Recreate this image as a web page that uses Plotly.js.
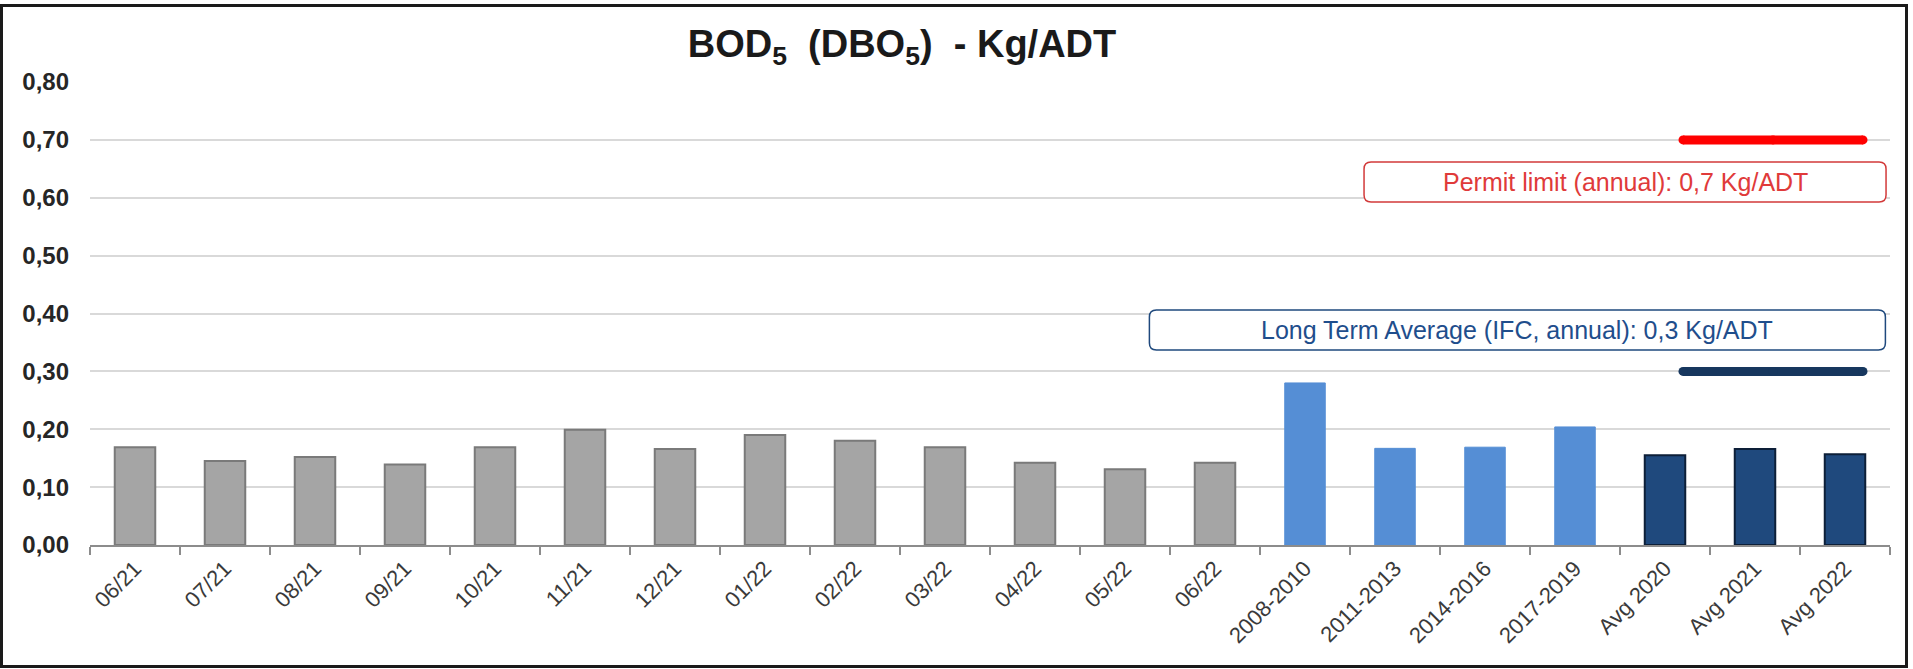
<!DOCTYPE html>
<html>
<head>
<meta charset="utf-8">
<script src="https://cdn.plot.ly/plotly-3.0.1.min.js"></script>
<style>
  html, body { margin: 0; padding: 0; background: #fff; }
  #chart { position: absolute; left: 0; top: 0; width: 1913px; height: 669px; }
  #frame { position: absolute; left: 0; top: 4px; width: 1908px; height: 664px; box-sizing: border-box; border: 3px solid #1a1a1a; pointer-events: none; }
</style>
</head>
<body>
<div id="chart"></div>
<div id="frame"></div>
<script>
// ---- data ----
const categories = ["06/21","07/21","08/21","09/21","10/21","11/21","12/21","01/22","02/22","03/22","04/22","05/22","06/22",
                    "2008-2010","2011-2013","2014-2016","2017-2019","Avg 2020","Avg 2021","Avg 2022"];
const monthlyLabels = ["06/21","07/21","08/21","09/21","10/21","11/21","12/21","01/22","02/22","03/22","04/22","05/22","06/22"];
const monthlyValues = [0.169,0.145,0.152,0.139,0.169,0.199,0.166,0.190,0.180,0.169,0.142,0.131,0.142];
const periodLabels = ["2008-2010","2011-2013","2014-2016","2017-2019"];
const periodValues = [0.280,0.167,0.169,0.204];
const avgLabels = ["Avg 2020","Avg 2021","Avg 2022"];
const avgValues = [0.155,0.166,0.157];
const permitLimit = [0.7,0.7,0.7];
const longTermAvg = [0.3,0.3,0.3];
const yTicks = [0,0.1,0.2,0.3,0.4,0.5,0.6,0.7,0.8];

const FONT = "Liberation Sans, Arial, sans-serif";

function roundedBox(hw, hh, r) {
  return `M ${-hw + r},${-hh} L ${hw - r},${-hh} Q ${hw},${-hh} ${hw},${-hh + r} ` +
         `L ${hw},${hh - r} Q ${hw},${hh} ${hw - r},${hh} L ${-hw + r},${hh} ` +
         `Q ${-hw},${hh} ${-hw},${hh - r} L ${-hw},${-hh + r} Q ${-hw},${-hh} ${-hw + r},${-hh} Z`;
}

const traces = [
  { type: "bar", x: monthlyLabels, y: monthlyValues, width: 0.45,
    marker: { color: "#a5a5a5", line: { color: "#7a7a7a", width: 2 } } },
  { type: "bar", x: periodLabels, y: periodValues, width: 0.45,
    marker: { color: "#558ed5", line: { color: "#558ed5", width: 1 } } },
  { type: "bar", x: avgLabels, y: avgValues, width: 0.45,
    marker: { color: "#1f497d", line: { color: "#0d1f38", width: 2 } } },
  { type: "scatter", mode: "lines+markers", x: avgLabels, y: permitLimit, xaxis: "x2",
    line: { color: "#ff0000", width: 9 }, marker: { color: "#ff0000", size: 9, line: { width: 0 } } },
  { type: "scatter", mode: "lines+markers", x: avgLabels, y: longTermAvg, xaxis: "x2",
    line: { color: "#17375e", width: 9 }, marker: { color: "#17375e", size: 9, line: { width: 0 } } }
];

const layout = {
  width: 1913, height: 669,
  margin: { l: 90, r: 23, t: 82, b: 124, pad: 0 },
  paper_bgcolor: "#ffffff", plot_bgcolor: "#ffffff",
  showlegend: false,
  barmode: "overlay",
  separators: ",.",
  font: { family: FONT, color: "#262626" },
  title: {
    text: "BOD<sub>5</sub>  (DBO<sub>5</sub>)  - Kg/ADT",
    font: { family: FONT, size: 38, color: "#1a1a1a", weight: "bold" },
    xref: "container", x: 0.4715, xanchor: "center",
    yref: "container", y: 0.935, yanchor: "middle"
  },
  xaxis: {
    type: "category", categoryorder: "array", categoryarray: categories,
    range: [-0.5, 19.5], fixedrange: true,
    showline: true, linecolor: "#8c8c8c", linewidth: 2,
    ticks: "outside", tickson: "boundaries", ticklen: 8, tickwidth: 2, tickcolor: "#8c8c8c",
    tickangle: -45, tickfont: { family: FONT, size: 22, color: "#3a3a3a" },
    showgrid: false, zeroline: false
  },
  xaxis2: {
    type: "category", categoryorder: "array", categoryarray: categories,
    overlaying: "x", range: [-0.7, 19.3], visible: false, fixedrange: true
  },
  yaxis: {
    range: [0, 0.8], tickvals: yTicks, tickformat: ".2f",
    showgrid: true, gridcolor: "#d9d9d9", gridwidth: 2,
    zeroline: false, showline: false, ticks: "",
    ticklabelstandoff: 20,
    tickfont: { family: FONT, size: 24, color: "#262626", weight: "bold" },
    fixedrange: true
  },
  shapes: [
    { type: "path", xref: "paper", yref: "paper", xsizemode: "pixel", ysizemode: "pixel",
      xanchor: 0.8528, yanchor: 0.784, path: roundedBox(261, 20, 7),
      line: { color: "#d23a3a", width: 1.5 }, fillcolor: "#ffffff", layer: "above" },
    { type: "path", xref: "paper", yref: "paper", xsizemode: "pixel", ysizemode: "pixel",
      xanchor: 0.793, yanchor: 0.4644, path: roundedBox(368, 20, 7),
      line: { color: "#1f497d", width: 1.5 }, fillcolor: "#ffffff", layer: "above" }
  ],
  annotations: [
    { text: "Permit limit (annual): 0,7 Kg/ADT", xref: "paper", yref: "paper",
      x: 0.8528, y: 0.784, xanchor: "center", yanchor: "middle", showarrow: false,
      font: { family: FONT, size: 25, color: "#e03a3a" } },
    { text: "Long Term Average (IFC, annual): 0,3 Kg/ADT", xref: "paper", yref: "paper",
      x: 0.793, y: 0.4644, xanchor: "center", yanchor: "middle", showarrow: false,
      font: { family: FONT, size: 25, color: "#1f4e8c" } }
  ]
};

Plotly.newPlot("chart", traces, layout, { displayModeBar: false, staticPlot: true });
</script>
</body>
</html>
